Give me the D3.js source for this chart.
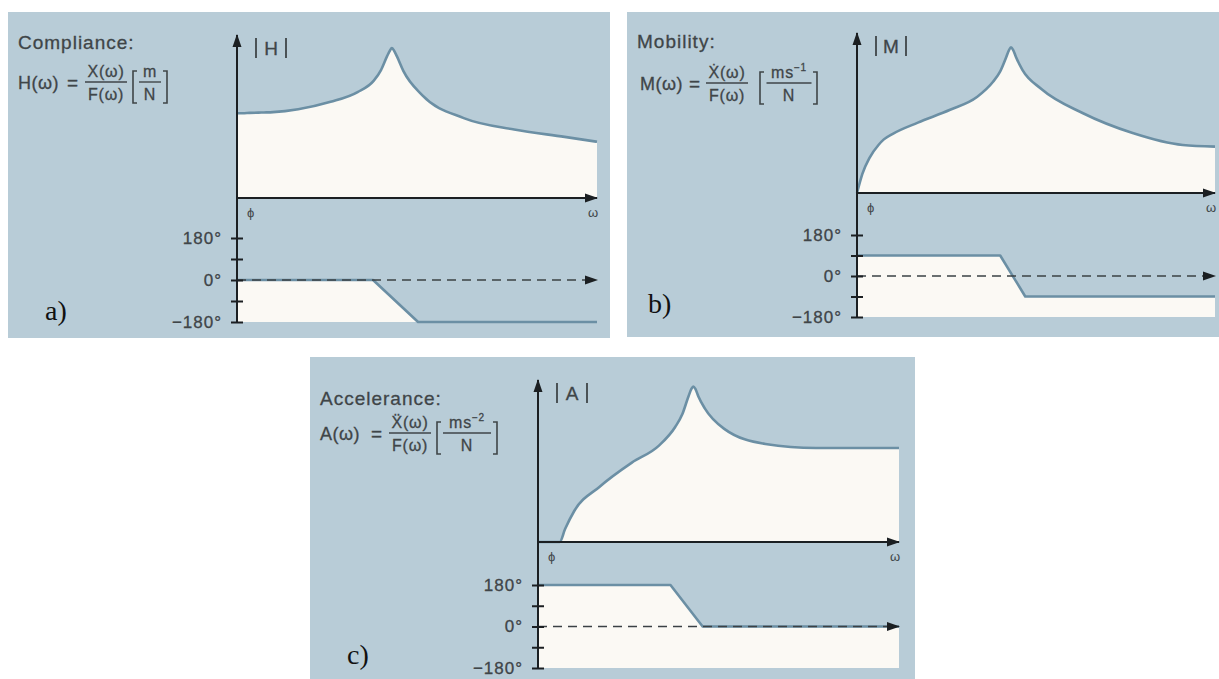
<!DOCTYPE html>
<html>
<head>
<meta charset="utf-8">
<script src="https://cdn.jsdelivr.net/npm/d3@7"></script>
<style>
  body { margin: 0; background: #fff; }
  svg { display: block; }
  text { font-family: "Liberation Sans", Arial, sans-serif; fill: #3f4548; stroke: #3f4548; stroke-width: 0.3px; }
  .big { font-size: 19px; letter-spacing: 1px; }
  .sym { font-size: 18px; letter-spacing: 0.5px; }
  .mid { font-size: 16px; letter-spacing: 0.8px; }
  .tag { font-family: "Liberation Serif", "Times New Roman", serif; font-size: 28px; fill: #111; stroke: none; }
</style>
</head>
<body>
<svg id="chart" width="1219" height="679"></svg>
<script>
// frequency grid shared by the three magnitude curves (omega runs 0..10 along the axis)
const omega = [0, 0.15, 0.35, 0.6, 0.75, 1.0, 1.7, 2.6, 3.35, 3.8, 4.0, 4.17, 4.25, 4.3, 4.36, 4.44, 4.62, 5.15, 6.3, 7.7, 9.1, 10];
const magCompliance  = [5.2, 5.2, 5.22, 5.24, 5.25, 5.27, 5.45, 5.9, 6.5, 7.2, 7.85, 8.7, 9.05, 9.2, 9.05, 8.7, 7.8, 6.3, 4.9, 4.2, 3.75, 3.45];
const magMobility    = [0, 1.2, 2.2, 3.0, 3.35, 3.7, 4.4, 5.2, 6.0, 6.95, 7.6, 8.5, 8.95, 9.1, 8.95, 8.5, 7.7, 6.5, 5.0, 3.75, 3.0, 2.9];
const magAccelerance = [0, 0, 0, 0, 0.8, 1.9, 3.4, 4.9, 5.95, 7.1, 7.9, 9.0, 9.45, 9.6, 9.45, 9.0, 8.25, 7.0, 6.05, 5.8, 5.8, 5.8];

// phase curves in degrees, given at the corners of each step
const phaseOmegaA = [0, 3.78, 5.03, 10];
const phaseCompliance = [0, 0, -180, -180];
const phaseOmegaB = [0, 4.0, 4.7, 10];
const phaseMobility = [90, 90, -90, -90];
const phaseOmegaC = [0, 3.67, 4.56, 10];
const phaseAccelerance = [180, 180, 0, 0];

const phaseTicks = [180, 90, 0, -90, -180];
const phaseTickLabels = ["180°", "", "0°", "", "−180°"];

const titles = ["Compliance:", "Mobility:", "Accelerance:"];
const symbols = ["H", "M", "A"];
const numerators = ["X(ω)", "Ẋ(ω)", "Ẍ(ω)"];
const unitBase = ["m", "ms", "ms"];
const unitSup = ["", "−1", "−2"];
const tags = ["a)", "b)", "c)"];

const BG = "#b8ccd7", FILL = "#fbf9f4", CURVE = "#6b8fa4", INK = "#1b1f22", TXT = "#3f4548";

// panel geometry (offsets inside each panel)
const panels = [
  { x: 8, y: 12, w: 602, h: 326, axisX: 229, magY: 186, arrowTop: 23, arrowRight: 589, p180: 226, pm180: 310,
    titleY: 37, fracY: 70, symX: 10, eqX: 63, fracX: 98, brL: 125, brR: 159, unitX: 142, tagX: 37, tagY: 308,
    mag: magCompliance, phW: phaseOmegaA, ph: phaseCompliance },
  { x: 627, y: 12, w: 600, h: 325, axisX: 230, magY: 181, arrowTop: 21, arrowRight: 588, p180: 223, pm180: 305,
    titleY: 36, fracY: 71, symX: 13, eqX: 66, fracX: 100, brL: 133, brR: 190, unitX: 162, tagX: 21, tagY: 301,
    mag: magMobility, phW: phaseOmegaB, ph: phaseMobility },
  { x: 310, y: 357, w: 605, h: 330, axisX: 228, magY: 185, arrowTop: 23, arrowRight: 589, p180: 228, pm180: 311,
    titleY: 48, fracY: 76, symX: 10, eqX: 65, fracX: 100, brL: 127, brR: 187, unitX: 157, tagX: 37, tagY: 307,
    mag: magAccelerance, phW: phaseOmegaC, ph: phaseAccelerance }
];

const svg = d3.select("#chart");
const defs = svg.append("defs");
defs.append("marker").attr("id", "arrow")
  .attr("viewBox", "0 -5 13 10").attr("refX", 12).attr("refY", 0)
  .attr("markerWidth", 13).attr("markerHeight", 10)
  .attr("markerUnits", "userSpaceOnUse").attr("orient", "auto")
  .append("path").attr("d", "M0,-4.5L13,0L0,4.5Z").attr("fill", INK);

panels.forEach((p, i) => {
  const g = svg.append("g").attr("transform", `translate(${p.x},${p.y})`);
  g.append("rect").attr("width", p.w).attr("height", p.h).attr("fill", BG);

  const x = d3.scaleLinear().domain([0, 10]).range([p.axisX, p.arrowRight]);
  const yMag = d3.scaleLinear().domain([0, 10]).range([p.magY, p.arrowTop]);
  const yPh = d3.scaleLinear().domain([-180, 180]).range([p.pm180, p.p180]);

  // magnitude
  const magData = omega.map((w, k) => [w, p.mag[k]]);
  g.append("path").datum(magData)
    .attr("d", d3.area().x(d => x(d[0])).y0(yMag(0)).y1(d => yMag(d[1])).curve(d3.curveMonotoneX))
    .attr("fill", FILL);
  g.append("path").datum(magData)
    .attr("d", d3.line().x(d => x(d[0])).y(d => yMag(d[1])).curve(d3.curveMonotoneX))
    .attr("fill", "none").attr("stroke", CURVE).attr("stroke-width", 2.6);

  // phase
  const phData = p.phW.map((w, k) => [w, p.ph[k]]);
  g.append("path").datum(phData)
    .attr("d", d3.area().x(d => x(d[0])).y0(yPh(-180)).y1(d => yPh(d[1])))
    .attr("fill", FILL);
  g.append("path").datum(phData)
    .attr("d", d3.line().x(d => x(d[0])).y(d => yPh(d[1])))
    .attr("fill", "none").attr("stroke", CURVE).attr("stroke-width", 2.6)
    .attr("stroke-linejoin", "round");

  // dashed zero-phase line
  g.append("line")
    .attr("x1", p.axisX).attr("x2", p.arrowRight).attr("y1", yPh(0)).attr("y2", yPh(0))
    .attr("stroke", "#3b4144").attr("stroke-width", 1.4).attr("stroke-dasharray", "9,6")
    .attr("marker-end", "url(#arrow)");

  // axes
  g.append("line")
    .attr("x1", p.axisX).attr("x2", p.axisX).attr("y1", yPh(-180)).attr("y2", p.arrowTop)
    .attr("stroke", INK).attr("stroke-width", 2).attr("marker-end", "url(#arrow)");
  g.append("line")
    .attr("x1", p.axisX).attr("x2", p.arrowRight).attr("y1", p.magY).attr("y2", p.magY)
    .attr("stroke", INK).attr("stroke-width", 2).attr("marker-end", "url(#arrow)");

  const phAxis = g.append("g").attr("transform", `translate(${p.axisX},0)`)
    .call(d3.axisLeft(yPh).tickValues(phaseTicks)
      .tickFormat((d, k) => phaseTickLabels[k]).tickSize(6).tickPadding(9));
  phAxis.select(".domain").remove();
  phAxis.selectAll(".tick line").attr("x1", -6).attr("x2", 6).attr("stroke", INK).attr("stroke-width", 2);
  phAxis.selectAll(".tick text").attr("fill", TXT)
    .style("font-family", '"Liberation Sans", Arial, sans-serif').style("font-size", "17px")
    .style("letter-spacing", "1px");

  // small axis labels
  g.append("text").attr("x", p.axisX + 10).attr("y", p.magY + 19)
    .style("font-size", "13px").style("stroke-width", 0).attr("fill", "#5d6468").text("ϕ");
  g.append("text").attr("x", p.arrowRight - 4).attr("y", p.magY + 19).attr("text-anchor", "middle")
    .style("font-size", "13px").style("stroke-width", 0).text("ω");

  // |H| label
  const lb = g.append("g").attr("transform", `translate(${p.axisX},${p.arrowTop})`);
  [19, 49].forEach(dx => lb.append("line").attr("x1", dx).attr("x2", dx).attr("y1", 3).attr("y2", 23)
    .attr("stroke", TXT).attr("stroke-width", 1.8));
  lb.append("text").attr("x", 34).attr("y", 20).attr("text-anchor", "middle").attr("class", "big")
    .style("letter-spacing", "0px").text(symbols[i]);

  // title and formula
  g.append("text").attr("class", "big").attr("x", 10).attr("y", p.titleY).text(titles[i]);
  const cy = p.fracY;
  g.append("text").attr("class", "sym").attr("x", p.symX).attr("y", cy + 7).text(symbols[i] + "(ω)");
  g.append("text").attr("class", "big").attr("x", p.eqX + 2).attr("y", cy + 7)
    .attr("text-anchor", "middle").text("=");
  g.append("text").attr("class", "mid").attr("x", p.fracX).attr("y", cy - 5)
    .attr("text-anchor", "middle").text(numerators[i]);
  g.append("line").attr("x1", p.fracX - 21).attr("x2", p.fracX + 21).attr("y1", cy).attr("y2", cy)
    .attr("stroke", TXT).attr("stroke-width", 1.4);
  g.append("text").attr("class", "mid").attr("x", p.fracX).attr("y", cy + 18)
    .attr("text-anchor", "middle").text("F(ω)");

  // unit in brackets
  const top = cy - 11, bot = cy + 21;
  g.append("path").attr("d", `M${p.brL + 4},${top}H${p.brL}V${bot}H${p.brL + 4}`)
    .attr("fill", "none").attr("stroke", TXT).attr("stroke-width", 1.6);
  g.append("path").attr("d", `M${p.brR - 4},${top}H${p.brR}V${bot}H${p.brR - 4}`)
    .attr("fill", "none").attr("stroke", TXT).attr("stroke-width", 1.6);
  const un = g.append("text").attr("class", "mid").attr("x", p.unitX).attr("y", cy - 5)
    .attr("text-anchor", "middle");
  un.append("tspan").text(unitBase[i]);
  if (unitSup[i]) un.append("tspan").attr("dy", -7).style("font-size", "10px").text(unitSup[i]);
  const uw = (p.brR - p.brL) / 2 - 6;
  g.append("line").attr("x1", p.unitX - uw).attr("x2", p.unitX + uw).attr("y1", cy).attr("y2", cy)
    .attr("stroke", TXT).attr("stroke-width", 1.4);
  g.append("text").attr("class", "mid").attr("x", p.unitX).attr("y", cy + 18)
    .attr("text-anchor", "middle").text("N");

  g.append("text").attr("class", "tag").attr("x", p.tagX).attr("y", p.tagY).text(tags[i]);
});
</script>
</body>
</html>
